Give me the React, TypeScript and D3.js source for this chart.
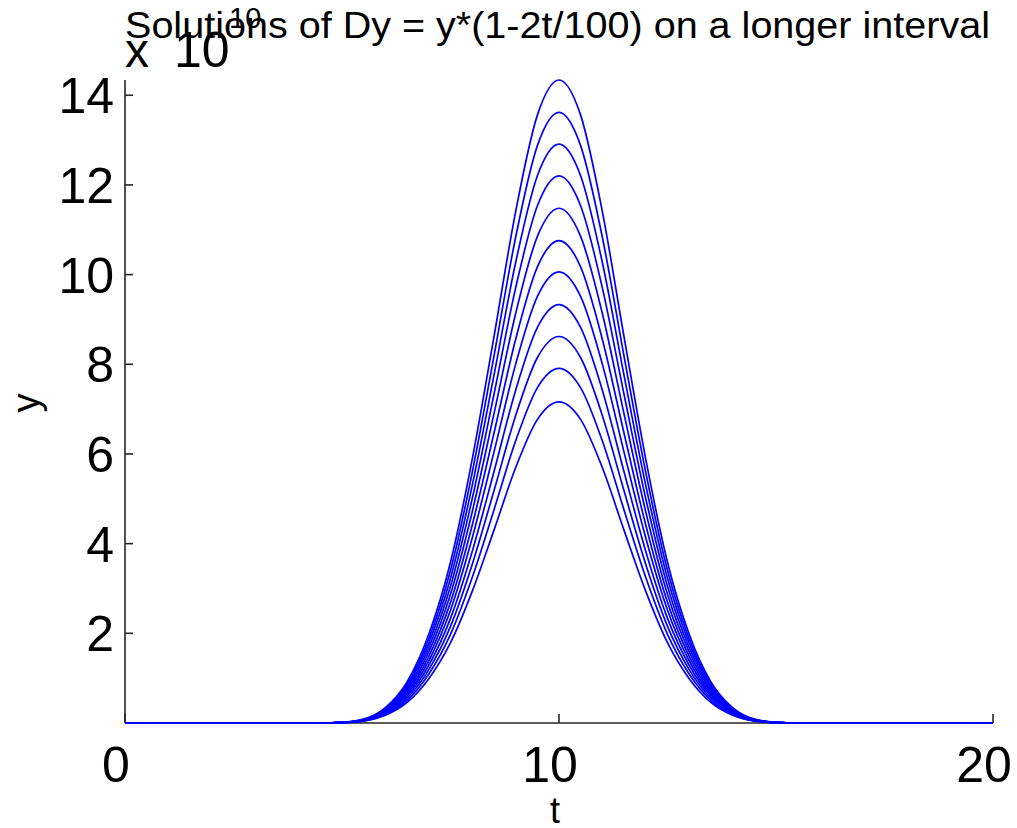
import React from "react";
import * as d3 from "d3";

// ---- data ----
const title = "Solutions of Dy = y*(1-2t/100) on a longer interval";
const xLabel = "t";
const yLabel = "y";
const xTicks = [0, 10, 20];
const yTicks = [2, 4, 6, 8, 10, 12, 14];
const exponentMark = "x";
const exponentBase = "10";
const exponent = "10";

// peak value of each solution curve (units of 1e10)
const peaks = [14.34, 13.62, 12.91, 12.2, 11.48, 10.76, 10.06, 9.33, 8.62, 7.91, 7.16];

// common profile of the curves (fraction of peak)
const tSamples = [0, 2, 4, 4.5, 5, 5.5, 6, 6.5, 7, 7.5, 8, 8.5, 9, 9.5, 10, 10.5, 11, 11.5, 12, 12.5, 13, 13.5, 14, 14.5, 15, 15.5, 16, 18, 20];
const profile = [0, 0, 0, 0, 0.001, 0.006, 0.024, 0.064, 0.138, 0.25, 0.41, 0.6, 0.795, 0.945, 1, 0.945, 0.795, 0.6, 0.41, 0.25, 0.138, 0.064, 0.024, 0.006, 0.001, 0, 0, 0, 0];

const W = 1017;
const H = 828;
const M = { left: 125, right: 993, top: 80, bottom: 723 };
const FONT = "'Liberation Sans', Arial, sans-serif";

export default function App() {
  const x = d3.scaleLinear().domain([0, 20]).range([M.left, M.right]);
  const yMax = d3.max(peaks) as number;
  const y = d3.scaleLinear().domain([0, yMax]).range([M.bottom, M.top]);
  const line = d3
    .line<[number, number]>()
    .x((d) => x(d[0]))
    .y((d) => y(d[1]))
    .curve(d3.curveMonotoneX);

  const axisColor = "#262626";

  return (
    <svg
      width={W}
      height={H}
      style={{ position: "absolute", left: 0, top: 0, background: "#fff" }}
      fontFamily={FONT}
    >
      <rect x={0} y={0} width={W} height={H} fill="#fff" />
      {/* axes */}
      <line x1={M.left} x2={M.right} y1={M.bottom} y2={M.bottom} stroke={axisColor} strokeWidth={1.6} />
      <line x1={M.left} x2={M.left} y1={M.top} y2={M.bottom} stroke={axisColor} strokeWidth={1.6} />
      {xTicks.map((t) => (
        <g key={"xt" + t}>
          <line x1={x(t)} x2={x(t)} y1={M.bottom} y2={M.bottom - 9} stroke={axisColor} strokeWidth={1.6} />
          <text x={x(t) - 9} y={782} textAnchor="middle" fontSize={50} fill="#000">
            {t}
          </text>
        </g>
      ))}
      {yTicks.map((v) => (
        <g key={"yt" + v}>
          <line x1={M.left} x2={M.left + 8} y1={y(v)} y2={y(v)} stroke={axisColor} strokeWidth={1.6} />
          <text x={114} y={y(v)} dy="0.36em" textAnchor="end" fontSize={50} fill="#000">
            {v}
          </text>
        </g>
      ))}
      {/* curves */}
      {peaks.map((p, i) => (
        <path
          key={"c" + i}
          d={line(tSamples.map((t, j) => [t, p * profile[j]] as [number, number])) || ""}
          fill="none"
          stroke="#0000ff"
          strokeWidth={1.7}
        />
      ))}
      {/* exponent label */}
      <text x={125} y={67} fontSize={48} fill="#000">
        {exponentMark}
      </text>
      <text x={174} y={67} fontSize={50} fill="#000">
        {exponentBase}
      </text>
      <text x={229} y={28} fontSize={29} fill="#000">
        {exponent}
      </text>
      {/* title */}
      <text
        x={125}
        y={38}
        fontSize={36}
        textLength={865}
        lengthAdjust="spacingAndGlyphs"
        fill="#000"
      >
        {title}
      </text>
      {/* axis labels */}
      <text x={555} y={823} textAnchor="middle" fontSize={36} fill="#000">
        {xLabel}
      </text>
      <text transform="translate(39,403) rotate(-90)" textAnchor="middle" fontSize={38} fill="#000">
        {yLabel}
      </text>
    </svg>
  );
}
